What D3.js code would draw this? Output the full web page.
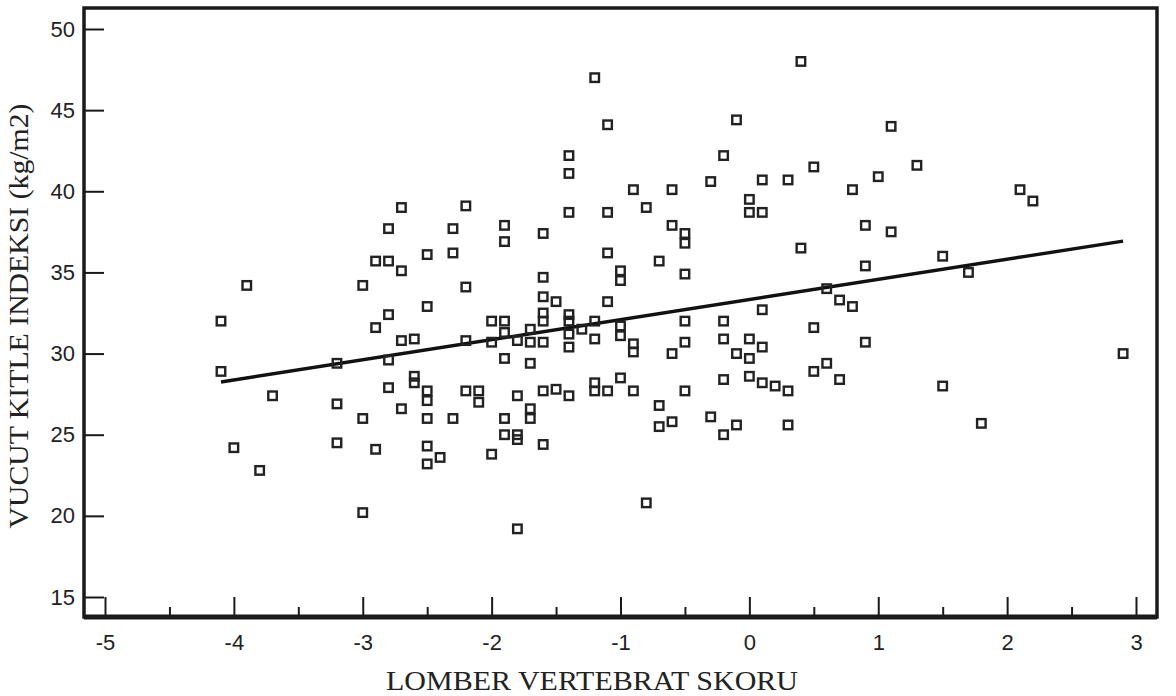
<!DOCTYPE html>
<html>
<head>
<meta charset="utf-8">
<script src="https://cdn.jsdelivr.net/npm/d3@7"></script>
<style>
  html, body { margin: 0; padding: 0; background: #fff; }
  svg { display: block; }
</style>
</head>
<body>
<svg id="chart" width="1176" height="696"></svg>
<script>
// ---- data ----
const pointX = [
  -4.1, -4.1,
  -4.0,
  -3.9,
  -3.8,
  -3.7,
  -3.2, -3.2, -3.2,
  -3.0, -3.0, -3.0,
  -2.9, -2.9, -2.9,
  -2.8, -2.8, -2.8, -2.8, -2.8,
  -2.7, -2.7, -2.7, -2.7,
  -2.6, -2.6, -2.6,
  -2.5, -2.5, -2.5, -2.5, -2.5, -2.5, -2.5,
  -2.4,
  -2.3, -2.3, -2.3,
  -2.2, -2.2, -2.2, -2.2,
  -2.1, -2.1,
  -2.0, -2.0, -2.0,
  -1.9, -1.9, -1.9, -1.9, -1.9, -1.9, -1.9,
  -1.8, -1.8, -1.8, -1.8, -1.8,
  -1.7, -1.7, -1.7, -1.7, -1.7,
  -1.6, -1.6, -1.6, -1.6, -1.6, -1.6, -1.6, -1.6,
  -1.5, -1.5,
  -1.4, -1.4, -1.4, -1.4, -1.4, -1.4, -1.4, -1.4,
  -1.3,
  -1.2, -1.2, -1.2, -1.2, -1.2,
  -1.1, -1.1, -1.1, -1.1, -1.1,
  -1.0, -1.0, -1.0, -1.0, -1.0,
  -0.9, -0.9, -0.9, -0.9,
  -0.8, -0.8,
  -0.7, -0.7, -0.7,
  -0.6, -0.6, -0.6, -0.6,
  -0.5, -0.5, -0.5, -0.5, -0.5, -0.5,
  -0.3, -0.3,
  -0.2, -0.2, -0.2, -0.2, -0.2,
  -0.1, -0.1, -0.1,
  0.0, 0.0, 0.0, 0.0, 0.0,
  0.1, 0.1, 0.1, 0.1, 0.1,
  0.2,
  0.3, 0.3, 0.3,
  0.4, 0.4,
  0.5, 0.5, 0.5,
  0.6, 0.6,
  0.7, 0.7,
  0.8, 0.8,
  0.9, 0.9, 0.9,
  1.0,
  1.1, 1.1,
  1.3,
  1.5, 1.5,
  1.7,
  1.8,
  2.1,
  2.2,
  2.9
];
const pointY = [
  32.0, 28.9,
  24.2,
  34.2,
  22.8,
  27.4,
  29.4, 26.9, 24.5,
  34.2, 26.0, 20.2,
  35.7, 31.6, 24.1,
  37.7, 35.7, 32.4, 29.6, 27.9,
  39.0, 35.1, 30.8, 26.6,
  30.9, 28.6, 28.2,
  36.1, 32.9, 27.7, 27.1, 26.0, 24.3, 23.2,
  23.6,
  37.7, 36.2, 26.0,
  39.1, 34.1, 30.8, 27.7,
  27.7, 27.0,
  32.0, 30.7, 23.8,
  37.9, 36.9, 32.0, 31.3, 29.7, 26.0, 25.0,
  30.8, 27.4, 25.0, 24.7, 19.2,
  31.5, 30.7, 29.4, 26.6, 26.0,
  37.4, 34.7, 33.5, 32.5, 32.0, 30.7, 27.7, 24.4,
  33.2, 27.8,
  42.2, 41.1, 38.7, 32.4, 32.0, 31.2, 30.4, 27.4,
  31.5,
  47.0, 32.0, 30.9, 28.2, 27.7,
  44.1, 38.7, 36.2, 33.2, 27.7,
  35.1, 34.5, 31.7, 31.1, 28.5,
  40.1, 30.6, 30.1, 27.7,
  39.0, 20.8,
  35.7, 26.8, 25.5,
  40.1, 37.9, 30.0, 25.8,
  37.4, 36.8, 34.9, 32.0, 30.7, 27.7,
  40.6, 26.1,
  42.2, 32.0, 30.9, 28.4, 25.0,
  44.4, 30.0, 25.6,
  39.5, 38.7, 30.9, 29.7, 28.6,
  40.7, 38.7, 32.7, 30.4, 28.2,
  28.0,
  40.7, 27.7, 25.6,
  48.0, 36.5,
  41.5, 31.6, 28.9,
  34.0, 29.4,
  33.3, 28.4,
  40.1, 32.9,
  37.9, 35.4, 30.7,
  40.9,
  44.0, 37.5,
  41.6,
  36.0, 28.0,
  35.0,
  25.7,
  40.1,
  39.4,
  30.0
];
// regression line end points
const fitX = [-4.1, 2.9];
const fitY = [28.25, 36.93];
// ticks
const xMajorTicks = [-5, -4, -3, -2, -1, 0, 1, 2, 3];
const xMajorLabels = ["-5", "-4", "-3", "-2", "-1", "0", "1", "2", "3"];
const xMinorTicks = [-4.5, -3.5, -2.5, -1.5, -0.5, 0.5, 1.5, 2.5];
const yTicks = [15, 20, 25, 30, 35, 40, 45, 50];
const yLabels = ["15", "20", "25", "30", "35", "40", "45", "50"];
const xTitle = "LOMBER VERTEBRAT SKORU";
const yTitle = "VUCUT KITLE INDEKSI (kg/m2)";

// ---- layout ----
const frame = { left: 84, top: 8, right: 1157, bottom: 617 };
const svg = d3.select("#chart");

const x = d3.scaleLinear().domain([-5, 3]).range([105, 1136]);
const y = d3.scaleLinear().domain([15, 50]).range([597, 29]);

const ink = "#1a1a1a";
const tickFont = "'Liberation Sans', Arial, sans-serif";

// y axis (ticks inward from left frame)
const yAxis = svg.append("g")
  .attr("transform", `translate(${frame.left},0)`)
  .call(d3.axisLeft(y).tickValues(yTicks).tickSizeInner(-20).tickSizeOuter(0).tickPadding(9)
    .tickFormat((d, i) => yLabels[i]));
yAxis.select(".domain").remove();
yAxis.selectAll(".tick line").attr("stroke", ink).attr("stroke-width", 2);
yAxis.selectAll(".tick text")
  .attr("font-family", tickFont)
  .attr("font-size", 22).attr("fill", "#222");

// x axis major ticks (inward from bottom frame)
const xAxis = svg.append("g")
  .attr("transform", `translate(0,${frame.bottom})`)
  .call(d3.axisBottom(x).tickValues(xMajorTicks).tickSizeInner(-20).tickSizeOuter(0).tickPadding(17)
    .tickFormat((d, i) => xMajorLabels[i]));
xAxis.select(".domain").remove();
xAxis.selectAll(".tick line").attr("stroke", ink).attr("stroke-width", 2);
xAxis.selectAll(".tick text")
  .attr("font-family", tickFont)
  .attr("font-size", 22).attr("fill", "#222");

// x axis minor ticks
const xMinor = svg.append("g")
  .attr("transform", `translate(0,${frame.bottom})`)
  .call(d3.axisBottom(x).tickValues(xMinorTicks).tickSizeInner(-10).tickSizeOuter(0).tickFormat(""));
xMinor.select(".domain").remove();
xMinor.selectAll(".tick line").attr("stroke", ink).attr("stroke-width", 2);

// frame
svg.append("rect")
  .attr("x", frame.left).attr("y", frame.top)
  .attr("width", frame.right - frame.left).attr("height", frame.bottom - frame.top)
  .attr("fill", "none").attr("stroke", ink).attr("stroke-width", 3.5);
svg.append("line")
  .attr("x1", frame.left).attr("x2", frame.right)
  .attr("y1", frame.bottom).attr("y2", frame.bottom)
  .attr("stroke", ink).attr("stroke-width", 5);

// regression line
svg.append("path")
  .datum(fitX.map((v, i) => [v, fitY[i]]))
  .attr("d", d3.line().x(d => x(d[0])).y(d => y(d[1])))
  .attr("fill", "none").attr("stroke", "#111").attr("stroke-width", 3.4);

// points
const pts = pointX.map((v, i) => ({ x: v, y: pointY[i] }));
const s = 8.5;
svg.append("g").selectAll("rect").data(pts).join("rect")
  .attr("x", d => x(d.x) - s / 2)
  .attr("y", d => y(d.y) - s / 2)
  .attr("width", s).attr("height", s)
  .attr("fill", "none")
  .attr("stroke", "#222").attr("stroke-width", 2.4);

// axis titles
svg.append("text")
  .attr("x", 592).attr("y", 690)
  .attr("text-anchor", "middle")
  .attr("font-family", "'Liberation Serif', 'Times New Roman', serif")
  .attr("font-size", 27).attr("fill", "#222")
  .attr("textLength", 412).attr("lengthAdjust", "spacingAndGlyphs")
  .text(xTitle);

svg.append("text")
  .attr("transform", "translate(28,316) rotate(-90)")
  .attr("text-anchor", "middle")
  .attr("font-family", "'Liberation Serif', 'Times New Roman', serif")
  .attr("font-size", 27).attr("fill", "#222")
  .attr("textLength", 425).attr("lengthAdjust", "spacingAndGlyphs")
  .text(yTitle);
</script>
</body>
</html>
